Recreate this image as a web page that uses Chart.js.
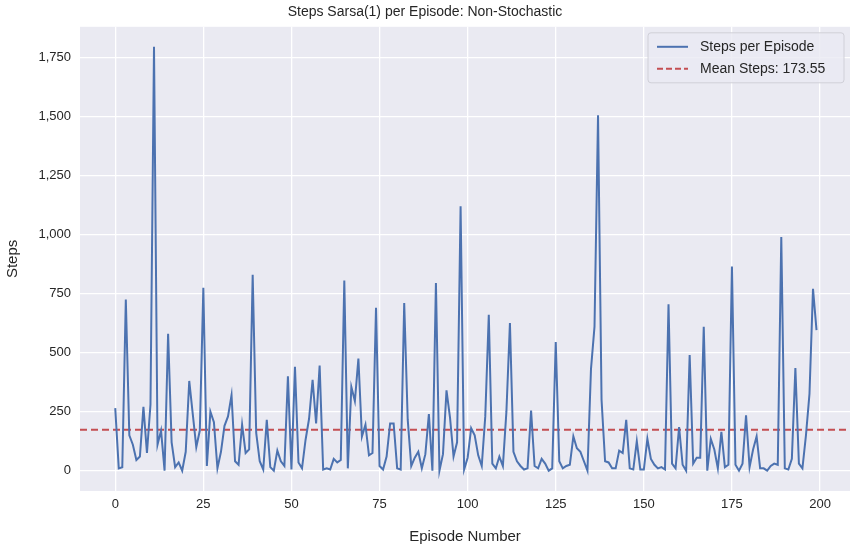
<!DOCTYPE html>
<html>
<head>
<meta charset="utf-8">
<script src="https://cdn.jsdelivr.net/npm/chart.js@4"></script>
<style>
  html, body { margin: 0; padding: 0; background: #fff; }
  #wrap { width: 862px; height: 550px; }
</style>
</head>
<body>
<div id="wrap"><canvas id="stepsChart"></canvas></div>
<script>
// ---------------- DATA ----------------
const steps = [
  265, 10, 15, 725, 150, 110, 45, 60, 270, 75,
  280, 1795, 110, 170, 0, 580, 120, 15, 35, 0,
  80, 380, 240, 100, 170, 775, 20, 250, 205, 10,
  80, 190, 230, 320, 40, 25, 195, 75, 90, 830,
  160, 40, 5, 215, 15, 0, 85, 40, 20, 400,
  5, 440, 35, 10, 130, 220, 385, 200, 445, 5,
  10, 5, 50, 35, 45, 805, 10, 355, 295, 475,
  145, 195, 65, 75, 690, 20, 5, 60, 200, 200,
  10, 5, 710, 215, 20, 55, 80, 10, 70, 240,
  0, 795, 0, 70, 340, 225, 60, 120, 1120, 5,
  55, 180, 150, 65, 20, 230, 660, 30, 10, 60,
  20, 250, 625, 80, 40, 20, 5, 10, 255, 20,
  10, 50, 30, 0, 10, 545, 40, 10, 20, 25,
  145, 95, 80, 40, 0, 430, 610, 1505, 300, 40,
  35, 10, 10, 85, 75, 215, 10, 5, 125, 5,
  5, 135, 50, 25, 10, 15, 5, 705, 30, 10,
  185, 25, 0, 490, 30, 55, 55, 610, 0, 135,
  90, 10, 165, 15, 25, 865, 25, 0, 30, 235,
  15, 90, 145, 10, 10, 0, 20, 30, 25, 990,
  10, 5, 50, 435, 30, 10, 150, 325, 770, 595
];
const meanSteps = 173.55;
const xTicks = [0, 25, 50, 75, 100, 125, 150, 175, 200];
const yTicks = [0, 250, 500, 750, 1000, 1250, 1500, 1750];

const points = steps.map((v, i) => ({ x: i, y: v }));
const meanLine = [{ x: -10, y: meanSteps }, { x: 210, y: meanSteps }];

const textColor = "#262626";
const font = "Liberation Sans, Arial, sans-serif";

// ---------------- LEGEND (inside plot, top right) ----------------
const innerLegend = {
    id: "innerLegend",
    afterDraw(chart) {
        const ctx = chart.ctx;
        const a = chart.chartArea;
        const w = 196, h = 50;
        const x0 = a.right - w - 6, y0 = a.top + 6;
        ctx.save();
        ctx.fillStyle = "rgba(234,234,242,0.8)";
        ctx.strokeStyle = "#d0d0d8";
        ctx.lineWidth = 1;
        ctx.beginPath();
        ctx.roundRect(x0, y0, w, h, 3);
        ctx.fill();
        ctx.stroke();
        ctx.font = "14px " + font;
        ctx.textBaseline = "middle";
        const rows = [
            { label: "Steps per Episode", color: "#4c72b0", dash: [] },
            { label: "Mean Steps: " + meanSteps.toFixed(2), color: "#c44e52", dash: [6, 3] }
        ];
        rows.forEach((r, i) => {
            const yy = y0 + 14 + i * 22;
            ctx.strokeStyle = r.color;
            ctx.lineWidth = 2;
            ctx.setLineDash(r.dash);
            ctx.beginPath();
            ctx.moveTo(x0 + 9, yy);
            ctx.lineTo(x0 + 40, yy);
            ctx.stroke();
            ctx.setLineDash([]);
            ctx.fillStyle = textColor;
            ctx.fillText(r.label, x0 + 52, yy);
        });
        ctx.restore();
    }
};

// plot background
const plotBg = {
    id: "plotBg",
    beforeDraw(chart) {
        const a = chart.chartArea;
        chart.ctx.save();
        chart.ctx.fillStyle = "#eaeaf2";
        chart.ctx.fillRect(a.left, a.top, a.right - a.left, a.bottom - a.top);
        chart.ctx.restore();
    }
};

// ===================== STEPS PER EPISODE (LINE) =====================
new Chart(document.getElementById("stepsChart"), {
    type: "line",
    data: {
        datasets: [
            {
                label: "Steps per Episode",
                data: points,
                borderColor: "#4c72b0",
                borderWidth: 2,
                pointRadius: 0,
                tension: 0
            },
            {
                label: "Mean Steps: " + meanSteps.toFixed(2),
                data: meanLine,
                borderColor: "#c44e52",
                borderWidth: 2,
                borderDash: [7, 4],
                pointRadius: 0
            }
        ]
    },
    options: {
        responsive: true,
        maintainAspectRatio: false,
        animation: false,
        layout: { padding: { left: 0, right: 12, top: 0, bottom: 0 } },
        plugins: {
            legend: { display: false },
            tooltip: { enabled: false },
            title: {
                display: true,
                text: "Steps Sarsa(1) per Episode: Non-Stochastic",
                color: textColor,
                font: { family: font, size: 14, weight: "normal" },
                padding: { top: 4, bottom: 6 }
            }
        },
        scales: {
            x: {
                type: "linear",
                min: -10,
                max: 208.5,
                afterBuildTicks: s => { s.ticks = xTicks.map(v => ({ value: v })); },
                afterFit: s => { s.height = 59; },
                grid: { color: "#ffffff", lineWidth: 1.3, drawTicks: false },
                border: { display: false },
                ticks: { color: textColor, font: { family: font, size: 13 }, padding: 6 },
                title: { display: true, text: "Episode Number", color: textColor, font: { family: font, size: 15 }, padding: { top: 2 } }
            },
            y: {
                min: -86,
                max: 1880,
                afterBuildTicks: s => { s.ticks = yTicks.map(v => ({ value: v })); },
                afterFit: s => { s.width = 80; },
                grid: { color: "#ffffff", lineWidth: 1.3, drawTicks: false },
                border: { display: false },
                ticks: { color: textColor, font: { family: font, size: 13 }, padding: 9 },
                title: { display: true, text: "Steps", color: textColor, font: { family: font, size: 15 }, padding: { bottom: 2 } }
            }
        }
    },
    plugins: [plotBg, innerLegend]
});
</script>
</body>
</html>
